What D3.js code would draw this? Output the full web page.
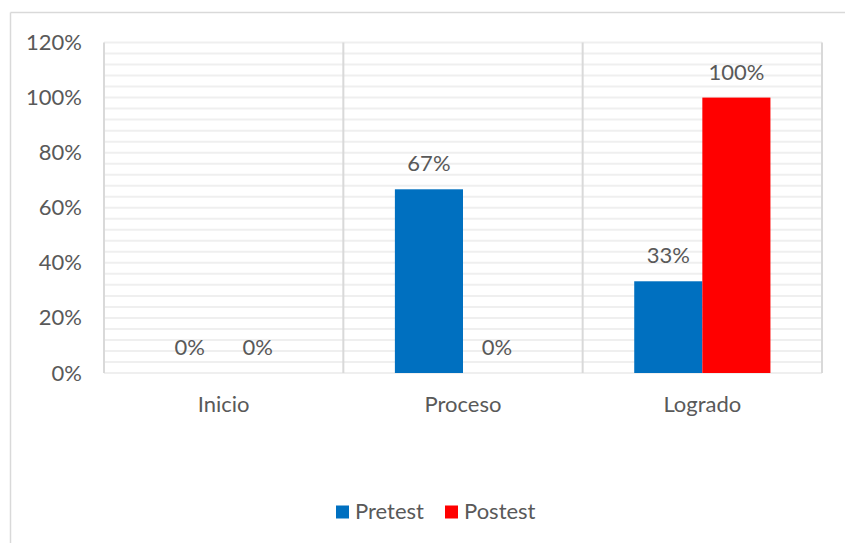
<!DOCTYPE html>
<html><head><meta charset="utf-8">
<script src="https://cdn.jsdelivr.net/npm/d3@7"></script>
<style>body{margin:0;background:#fff}svg{display:block}</style>
</head><body>
<svg id="c" width="845" height="543"></svg>
<script>
const categories = ["Inicio", "Proceso", "Logrado"];
const seriesNames = ["Pretest", "Postest"];
const pretest = [0, 0.667, 0.333];
const postest = [0, 0, 1.0];
const pretestLabels = ["0%", "67%", "33%"];
const postestLabels = ["0%", "0%", "100%"];
const yTicks = [0, 0.2, 0.4, 0.6, 0.8, 1.0, 1.2];
const colors = ["#0070C0", "#FF0000"];

const svg = d3.select("#c");
const font = "Lato, 'Open Sans', sans-serif";
const fs = "22px";
const textColor = "#595959";

// outer border (top & left visible)
svg.append("line").attr("x1", 10.5).attr("x2", 845).attr("y1", 12.5).attr("y2", 12.5).attr("stroke", "#d9d9d9").attr("stroke-width", 1.5);
svg.append("line").attr("x1", 10.5).attr("x2", 10.5).attr("y1", 12.5).attr("y2", 543).attr("stroke", "#d9d9d9").attr("stroke-width", 1.5);

const x0 = 104, x1 = 822, yTop = 42.5, yBot = 373;
const y = d3.scaleLinear().domain([0, 1.2]).range([yBot, yTop]);
const x = d3.scaleBand().domain(categories).range([x0, x1]).padding(0);
const xs = d3.scaleBand().domain(seriesNames).range([0, x.bandwidth()]).paddingOuter(0.757).paddingInner(0);

const g = svg.append("g");
// minor + major horizontal gridlines every 4%
const gridVals = d3.range(0, 31).map(i => i * 0.04);
g.selectAll("line.h").data(gridVals).join("line")
  .attr("x1", x0).attr("x2", x1)
  .attr("y1", d => y(d)).attr("y2", d => y(d))
  .attr("stroke", "#efefef").attr("stroke-width", 2);

// vertical lines at category boundaries
const vlines = categories.map(c => x(c)).concat([x1]);
g.selectAll("line.v").data(vlines).join("line")
  .attr("x1", d => d).attr("x2", d => d)
  .attr("y1", yTop).attr("y2", yBot)
  .attr("stroke", "#d9d9d9").attr("stroke-width", 2);

// y axis labels
const yAxis = d3.axisLeft(y).tickValues(yTicks).tickFormat(d3.format(".0%")).tickSize(0).tickPadding(22);
const ya = svg.append("g").attr("transform", `translate(${x0},0)`).call(yAxis);
ya.select(".domain").remove();
ya.selectAll("text").attr("fill", textColor).style("font-family", font).style("font-size", fs);

// x axis labels
const xAxis = d3.axisBottom(x).tickSize(0).tickPadding(23);
const xa = svg.append("g").attr("transform", `translate(0,${yBot})`).call(xAxis);
xa.select(".domain").remove();
xa.selectAll("text").attr("fill", textColor).style("font-family", font).style("font-size", fs);

// bars
const data = [];
categories.forEach((c, i) => {
  data.push({c, s: "Pretest", v: pretest[i], lab: pretestLabels[i], col: colors[0]});
  data.push({c, s: "Postest", v: postest[i], lab: postestLabels[i], col: colors[1]});
});
svg.selectAll("rect.bar").data(data).join("rect")
  .attr("x", d => x(d.c) + xs(d.s))
  .attr("width", xs.bandwidth())
  .attr("y", d => y(d.v))
  .attr("height", d => yBot - y(d.v))
  .attr("fill", d => d.col);

svg.selectAll("text.lab").data(data).join("text")
  .attr("x", d => x(d.c) + xs(d.s) + xs.bandwidth() / 2)
  .attr("y", d => y(d.v) - 18)
  .attr("text-anchor", "middle")
  .attr("fill", textColor)
  .style("font-family", font).style("font-size", fs)
  .text(d => d.lab);

// legend
const leg = svg.append("g");
const legX = [336, 445];
seriesNames.forEach((s, i) => {
  leg.append("rect").attr("x", legX[i]).attr("y", 505.5).attr("width", 13).attr("height", 13).attr("fill", colors[i]);
  leg.append("text").attr("x", legX[i] + 19).attr("y", 519).attr("fill", textColor)
    .style("font-family", font).style("font-size", fs).text(s);
});
</script>
</body></html>
